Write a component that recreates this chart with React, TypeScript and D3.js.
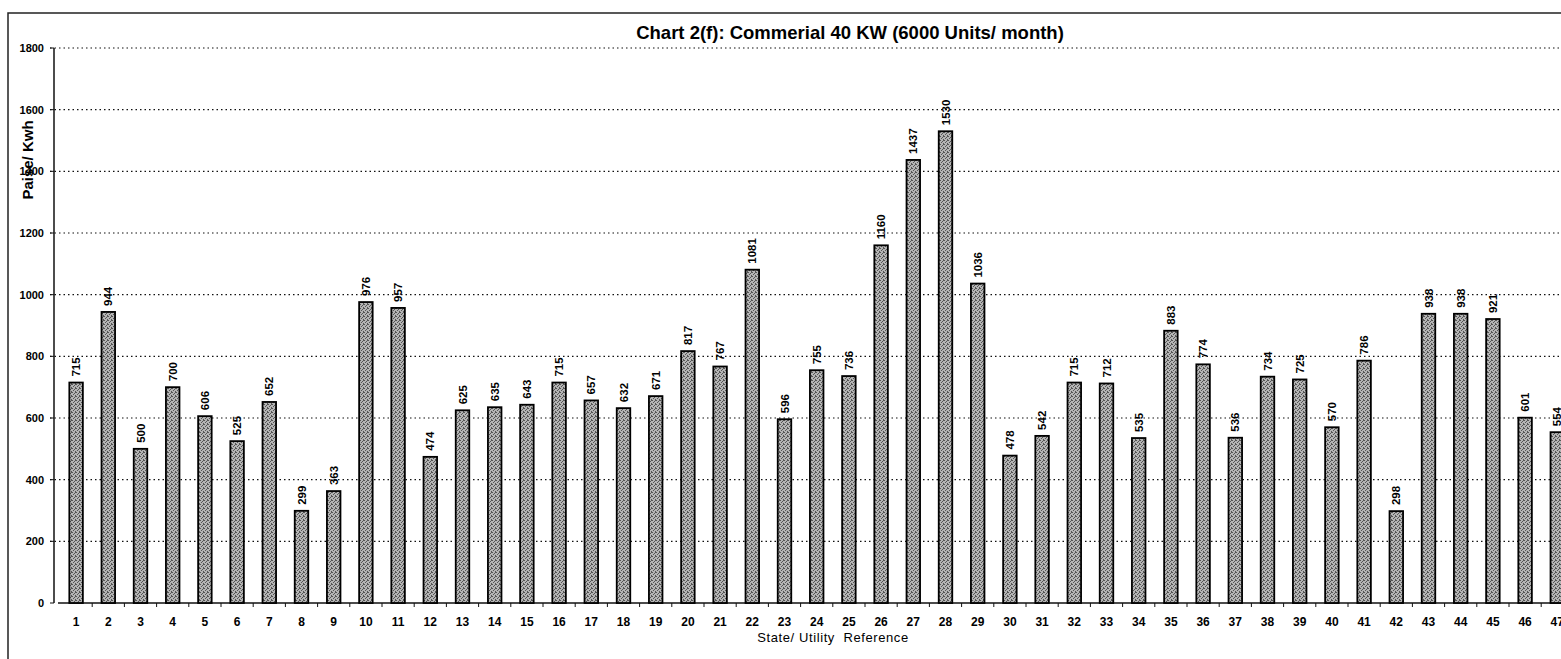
import React, { useEffect, useRef } from 'react';
import * as d3 from 'd3';

const categories = d3.range(1, 48).map(String);
const values = [
  715, 944, 500, 700, 606, 525, 652, 299, 363, 976,
  957, 474, 625, 635, 643, 715, 657, 632, 671, 817,
  767, 1081, 596, 755, 736, 1160, 1437, 1530, 1036, 478,
  542, 715, 712, 535, 883, 774, 536, 734, 725, 570,
  786, 298, 938, 938, 921, 601, 554,
];
const yTicks = [0, 200, 400, 600, 800, 1000, 1200, 1400, 1600, 1800];
const title = 'Chart 2(f): Commerial 40 KW (6000 Units/ month)';
const yTitle = 'Paise/ Kwh';
const xTitle = 'State/ Utility  Reference';

const W = 1561;
const H = 659;

export default function App() {
  const ref = useRef<SVGSVGElement>(null);

  useEffect(() => {
    const svg = d3.select(ref.current);
    svg.selectAll('*').remove();

    const font = 'Arial, "Liberation Sans", sans-serif';

    const x = d3.scaleBand<string>()
      .domain(categories)
      .range([60, 60 + 47 * 32.2])
      .paddingInner(0.58)
      .paddingOuter(0.29);

    const y = d3.scaleLinear()
      .domain([0, 1800])
      .range([603, 48]);

    // stipple texture for the bars
    const defs = svg.append('defs');
    const pat = defs.append('pattern')
      .attr('id', 'stipple')
      .attr('patternUnits', 'userSpaceOnUse')
      .attr('width', 4)
      .attr('height', 4);
    pat.append('rect').attr('width', 4).attr('height', 4).attr('fill', '#b4b4b4');
    [[0, 0], [2, 1], [1, 2], [3, 3], [3, 0]].forEach(([px, py]) => {
      pat.append('rect')
        .attr('x', px).attr('y', py)
        .attr('width', 1).attr('height', 1)
        .attr('fill', '#555');
    });

    // outer frame
    svg.append('path')
      .attr('d', `M 8,${H} L 8,13 L ${W},13`)
      .attr('fill', 'none')
      .attr('stroke', '#222')
      .attr('stroke-width', 1.5);

    // gridlines
    svg.selectAll('.grid')
      .data(yTicks.filter(d => d > 0))
      .enter()
      .append('line')
      .attr('class', 'grid')
      .attr('x1', 50)
      .attr('x2', W)
      .attr('y1', d => y(d))
      .attr('y2', d => y(d))
      .attr('stroke', '#111')
      .attr('stroke-width', 1.2)
      .attr('stroke-dasharray', '1.5,3');

    // y axis
    svg.append('line')
      .attr('x1', 54).attr('x2', 54)
      .attr('y1', y(1800)).attr('y2', y(0))
      .attr('stroke', '#111')
      .attr('stroke-width', 1.5);

    svg.selectAll('.ytick')
      .data(yTicks)
      .enter()
      .append('line')
      .attr('class', 'ytick')
      .attr('x1', 50).attr('x2', 54)
      .attr('y1', d => y(d)).attr('y2', d => y(d))
      .attr('stroke', '#111');

    svg.selectAll('.ylabel')
      .data(yTicks)
      .enter()
      .append('text')
      .attr('class', 'ylabel')
      .attr('x', 44)
      .attr('y', d => y(d) + 4)
      .attr('text-anchor', 'end')
      .attr('font-family', font)
      .attr('font-size', 11)
      .attr('font-weight', 'bold')
      .text(d => d);

    // x axis
    svg.append('line')
      .attr('x1', 58).attr('x2', W)
      .attr('y1', y(0)).attr('y2', y(0))
      .attr('stroke', '#111')
      .attr('stroke-width', 1.5);

    const step = x.step();
    svg.selectAll('.xtick')
      .data(categories)
      .enter()
      .append('line')
      .attr('class', 'xtick')
      .attr('x1', d => (x(d) as number) + x.bandwidth() / 2 + step / 2)
      .attr('x2', d => (x(d) as number) + x.bandwidth() / 2 + step / 2)
      .attr('y1', y(0)).attr('y2', y(0) + 4)
      .attr('stroke', '#111');

    svg.selectAll('.xlabel')
      .data(categories)
      .enter()
      .append('text')
      .attr('class', 'xlabel')
      .attr('x', d => (x(d) as number) + x.bandwidth() / 2)
      .attr('y', 626)
      .attr('text-anchor', 'middle')
      .attr('font-family', font)
      .attr('font-size', 12)
      .attr('font-weight', 'bold')
      .text(d => d);

    // bars
    const data = categories.map((c, i) => ({ c, v: values[i] }));

    svg.selectAll('.bar')
      .data(data)
      .enter()
      .append('rect')
      .attr('class', 'bar')
      .attr('x', d => x(d.c) as number)
      .attr('width', x.bandwidth())
      .attr('y', d => y(d.v))
      .attr('height', d => y(0) - y(d.v))
      .attr('fill', 'url(#stipple)')
      .attr('stroke', '#000')
      .attr('stroke-width', 1.8);

    svg.selectAll('.vlabel')
      .data(data)
      .enter()
      .append('text')
      .attr('class', 'vlabel')
      .attr('transform', d => `translate(${(x(d.c) as number) + x.bandwidth() / 2 + 4},${y(d.v) - 6}) rotate(-90)`)
      .attr('font-family', font)
      .attr('font-size', 11.5)
      .attr('font-weight', 'bold')
      .text(d => d.v);

    // titles
    svg.append('text')
      .attr('x', 850)
      .attr('y', 39)
      .attr('text-anchor', 'middle')
      .attr('font-family', font)
      .attr('font-size', 18.5)
      .attr('font-weight', 'bold')
      .text(title);

    svg.append('text')
      .attr('transform', `translate(33,160) rotate(-90)`)
      .attr('text-anchor', 'middle')
      .attr('font-family', font)
      .attr('font-size', 15)
      .attr('font-weight', 'bold')
      .text(yTitle);

    svg.append('text')
      .attr('x', 833)
      .attr('y', 642)
      .attr('text-anchor', 'middle')
      .attr('font-family', font)
      .attr('font-size', 13)
      .attr('letter-spacing', 0.6)
      .style('white-space', 'pre')
      .text(xTitle);
  }, []);

  return (
    <svg
      ref={ref}
      width={W}
      height={H}
      viewBox={`0 0 ${W} ${H}`}
      style={{ position: 'absolute', left: 0, top: 0, background: '#fff' }}
    />
  );
}
